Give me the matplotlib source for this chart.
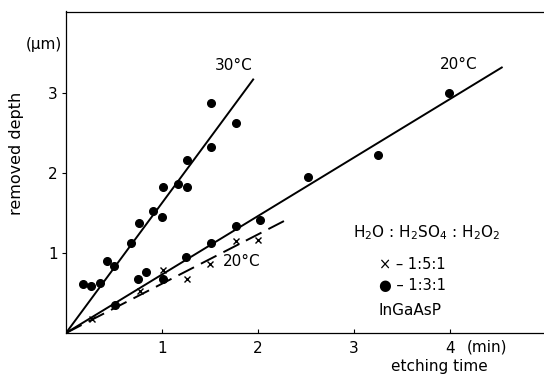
import matplotlib
matplotlib.use("Agg")
import matplotlib.pyplot as plt

# 30 C, H2O:H2SO4:H2O2 = 1:3:1
t30_dot = [0.18, 0.26, 0.35, 0.43, 0.50, 0.68, 0.76, 0.91, 1.00, 1.01, 1.17, 1.26, 1.26, 1.51, 1.51, 1.77]
d30_dot = [0.61, 0.59, 0.63, 0.90, 0.84, 1.13, 1.37, 1.52, 1.45, 1.83, 1.86, 1.82, 2.16, 2.88, 2.32, 2.62]

# 20 C, 1:3:1
t20_dot = [0.51, 0.75, 0.83, 1.01, 1.25, 1.51, 1.77, 2.02, 2.52, 3.25, 3.99]
d20_dot = [0.35, 0.67, 0.76, 0.67, 0.95, 1.13, 1.34, 1.41, 1.95, 2.23, 3.00]

# 20 C, 1:5:1
t20_cross = [0.27, 0.77, 1.01, 1.26, 1.50, 1.77, 2.00]
d20_cross = [0.18, 0.52, 0.79, 0.67, 0.86, 1.15, 1.16]

# straight-line fits through the origin (end points)
fit30_x, fit30_y = [0, 1.95], [0, 3.17]
fit20_x, fit20_y = [0, 4.54], [0, 3.32]
fit20x_x, fit20x_y = [0, 2.32], [0, 1.43]

xticks = [1, 2, 3, 4]
yticks = [1, 2, 3]

plt.rcParams["font.family"] = "DejaVu Sans"
plt.rcParams["mathtext.fontset"] = "dejavusans"

fig = plt.figure(figsize=(5.44, 3.79), dpi=100)
ax = fig.add_axes([66 / 544, 46 / 379, 478 / 544, 321.5 / 379])

ax.plot(fit30_x, fit30_y, color="black", lw=1.4)
ax.plot(fit20_x, fit20_y, color="black", lw=1.4)
ax.plot(fit20x_x, fit20x_y, color="black", lw=1.4, dashes=(9, 4))

ax.plot(t30_dot, d30_dot, "o", color="black", ms=5.5, ls="none")
ax.plot(t20_dot, d20_dot, "o", color="black", ms=5.5, ls="none")
ax.plot(t20_cross, d20_cross, "x", color="black", ms=4, mew=1.0, ls="none")

ax.set_xlim(0, 4.98)
ax.set_ylim(0, 4.02)
ax.spines["right"].set_visible(False)
for s in ("left", "top", "bottom"):
    ax.spines[s].set_linewidth(0.9)

ax.set_xticks(xticks)
ax.set_xticklabels([str(v) for v in xticks])
ax.set_yticks(yticks)
ax.set_yticklabels([str(v) for v in yticks])
ax.tick_params(axis="x", direction="in", length=3, pad=6, labelsize=11)
ax.tick_params(axis="y", direction="out", length=3, pad=3, labelsize=11)

ax.text(4.18, -0.175, "(min)", fontsize=11, ha="left", va="center", clip_on=False)
fig.text(439 / 544, 1 - 366 / 379, "etching time", fontsize=11, ha="center", va="center")
fig.text(17 / 544, 1 - 153 / 379, "removed depth", fontsize=11.5, rotation=90,
         ha="center", va="center")
fig.text(44 / 544, 1 - 44 / 379, "(μm)", fontsize=11, ha="center", va="center")

ax.text(1.75, 3.34, "30°C", fontsize=11, ha="center", va="center")
ax.text(4.09, 3.36, "20°C", fontsize=11, ha="center", va="center")
ax.text(1.83, 0.89, "20°C", fontsize=11, ha="center", va="center")

ax.text(3.76, 1.26, r"H$_2$O : H$_2$SO$_4$ : H$_2$O$_2$", fontsize=11, ha="center", va="center")
ax.text(3.61, 0.86, "× – 1:5:1", fontsize=10.5, ha="center", va="center")
ax.text(3.61, 0.60, "● – 1:3:1", fontsize=10.5, ha="center", va="center")
ax.text(3.58, 0.28, "InGaAsP", fontsize=11, ha="center", va="center")

fig.savefig("out.png", dpi=100)
